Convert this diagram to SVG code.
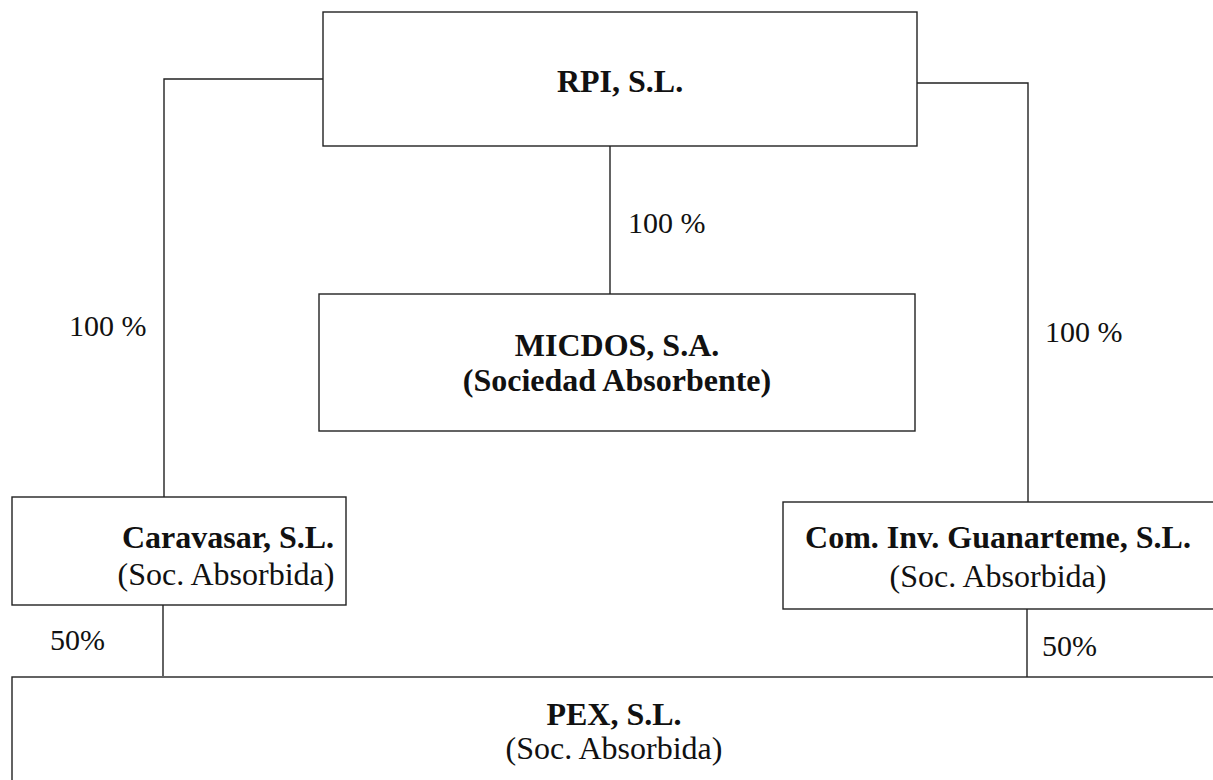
<svg xmlns="http://www.w3.org/2000/svg" width="1213" height="780" viewBox="0 0 1213 780">
<style>
.box{fill:#fff;stroke:#222;stroke-width:1.4}
.con{fill:none;stroke:#222;stroke-width:1.4}
.b{font-family:"Liberation Serif","Times New Roman",serif;font-weight:bold;font-size:32px;fill:#111;text-anchor:middle}
.r{font-family:"Liberation Serif","Times New Roman",serif;font-size:32px;fill:#111;text-anchor:middle}
.lbl{font-family:"Liberation Serif","Times New Roman",serif;font-size:30px;fill:#111}
</style>
<rect width="1213" height="780" fill="#fff"/>
<g id="connectors">
<polyline class="con" points="323,79 164,79 164,497"/>
<polyline class="con" points="917,83 1028,83 1028,502"/>
<line class="con" x1="610" y1="146" x2="610" y2="294"/>
<line class="con" x1="163" y1="605" x2="163" y2="676"/>
<line class="con" x1="1027" y1="609" x2="1027" y2="679"/>
<text class="lbl" x="69" y="336">100 %</text>
<text class="lbl" x="628" y="233">100 %</text>
<text class="lbl" x="1045" y="342">100 %</text>
<text class="lbl" x="50" y="650">50%</text>
<text class="lbl" x="1042" y="656">50%</text>
</g>
<g id="rpi">
<rect class="box" x="323" y="12" width="594" height="134"/>
<text class="b" x="620" y="92">RPI, S.L.</text>
</g>
<g id="micdos">
<rect class="box" x="319" y="294" width="596" height="137"/>
<text class="b" x="617" y="356">MICDOS, S.A.</text>
<text class="b" x="617" y="391">(Sociedad Absorbente)</text>
</g>
<g id="caravasar">
<rect class="box" x="12" y="497" width="334" height="108"/>
<text class="b" x="228" y="548">Caravasar, S.L.</text>
<text class="r" x="226" y="585">(Soc. Absorbida)</text>
</g>
<g id="guanarteme">
<rect class="box" x="783" y="502" width="440" height="107"/>
<text class="b" x="998" y="548">Com. Inv. Guanarteme, S.L.</text>
<text class="r" x="998" y="587">(Soc. Absorbida)</text>
</g>
<g id="pex">
<rect class="box" x="12" y="677" width="1212" height="120"/>
<text class="b" x="614" y="725">PEX, S.L.</text>
<text class="r" x="614" y="759">(Soc. Absorbida)</text>
</g>
</svg>
